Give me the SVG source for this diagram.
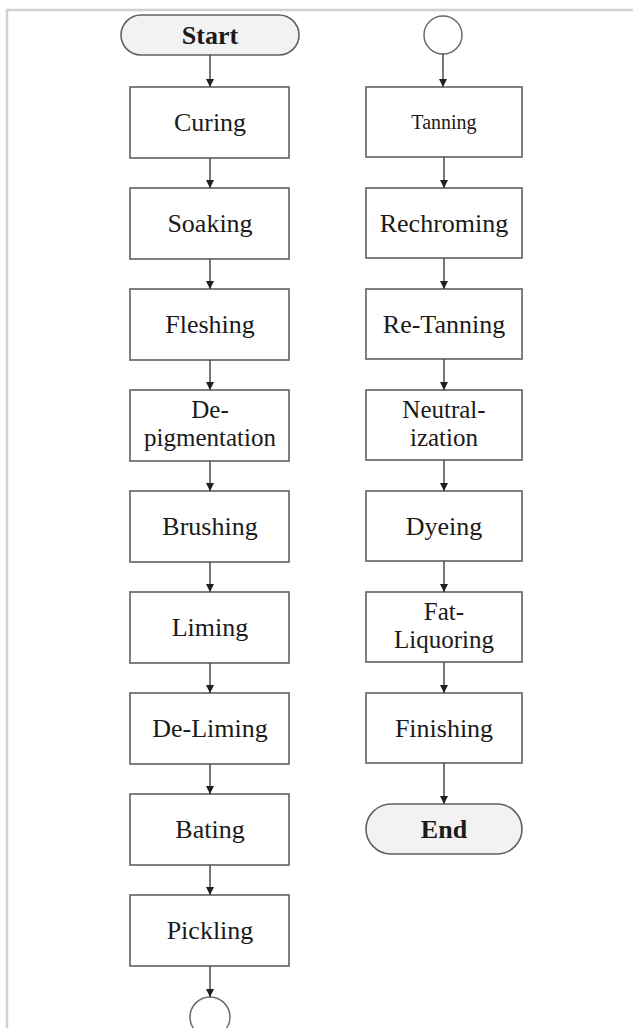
<svg xmlns="http://www.w3.org/2000/svg" width="633" height="1028" viewBox="0 0 633 1028">
<defs>
<style>
.box{fill:#fff;stroke:#606060;stroke-width:1.6}
.term{fill:#f2f2f2;stroke:#606060;stroke-width:1.6}
.circ{fill:#fff;stroke:#6a6a6a;stroke-width:1.5}
.lbl{font-family:"Liberation Serif","Times New Roman",serif;font-size:26px;fill:#1a1a1a;text-anchor:middle}
.two{font-size:25px}
.small{font-size:20px}
.bold{font-weight:bold}
.conn line{stroke:#404040;stroke-width:1.4;marker-end:url(#arr)}
</style>
<marker id="arr" viewBox="0 0 10 10" refX="10" refY="5" markerWidth="8" markerHeight="8" markerUnits="userSpaceOnUse" orient="auto">
<path d="M0,0 L10,5 L0,10 z" fill="#202020"/>
</marker>
</defs>
<rect width="633" height="1028" fill="#fff"/>
<path d="M7,1028 V10 H633" fill="none" stroke="#d0d0d0" stroke-width="2.5"/>

<g id="start"><rect class="term" x="121" y="15" width="178" height="40" rx="20"/><text class="lbl bold" x="210" y="44">Start</text></g>
<g id="curing"><rect class="box" x="130" y="87" width="159" height="71"/><text class="lbl" x="210" y="131">Curing</text></g>
<g id="soaking"><rect class="box" x="130" y="188" width="159" height="71"/><text class="lbl" x="210" y="232">Soaking</text></g>
<g id="fleshing"><rect class="box" x="130" y="289" width="159" height="71"/><text class="lbl" x="210" y="333">Fleshing</text></g>
<g id="depigmentation"><rect class="box" x="130" y="390" width="159" height="71"/><text class="lbl two" x="210" y="418">De-</text><text class="lbl two" x="210" y="446">pigmentation</text></g>
<g id="brushing"><rect class="box" x="130" y="491" width="159" height="71"/><text class="lbl" x="210" y="535">Brushing</text></g>
<g id="liming"><rect class="box" x="130" y="592" width="159" height="71"/><text class="lbl" x="210" y="636">Liming</text></g>
<g id="deliming"><rect class="box" x="130" y="693" width="159" height="71"/><text class="lbl" x="210" y="737">De-Liming</text></g>
<g id="bating"><rect class="box" x="130" y="794" width="159" height="71"/><text class="lbl" x="210" y="838">Bating</text></g>
<g id="pickling"><rect class="box" x="130" y="895" width="159" height="71"/><text class="lbl" x="210" y="939">Pickling</text></g>
<g id="connectorA"><circle class="circ" cx="210" cy="1017" r="20"/></g>

<g id="connectorB"><circle class="circ" cx="443" cy="35" r="19"/></g>
<g id="tanning"><rect class="box" x="366" y="87" width="156" height="70"/><text class="lbl small" x="444" y="129">Tanning</text></g>
<g id="rechroming"><rect class="box" x="366" y="188" width="156" height="70"/><text class="lbl" x="444" y="232">Rechroming</text></g>
<g id="retanning"><rect class="box" x="366" y="289" width="156" height="70"/><text class="lbl" x="444" y="333">Re-Tanning</text></g>
<g id="neutralization"><rect class="box" x="366" y="390" width="156" height="70"/><text class="lbl two" x="444" y="418">Neutral-</text><text class="lbl two" x="444" y="446">ization</text></g>
<g id="dyeing"><rect class="box" x="366" y="491" width="156" height="70"/><text class="lbl" x="444" y="535">Dyeing</text></g>
<g id="fatliquoring"><rect class="box" x="366" y="592" width="156" height="70"/><text class="lbl two" x="444" y="620">Fat-</text><text class="lbl two" x="444" y="648">Liquoring</text></g>
<g id="finishing"><rect class="box" x="366" y="693" width="156" height="70"/><text class="lbl" x="444" y="737">Finishing</text></g>
<g id="end"><rect class="term" x="366" y="804" width="156" height="50" rx="25"/><text class="lbl bold" x="444" y="838">End</text></g>

<g id="connectors" class="conn">
<line x1="210" y1="55" x2="210" y2="87"/>
<line x1="210" y1="158" x2="210" y2="188"/>
<line x1="210" y1="259" x2="210" y2="289"/>
<line x1="210" y1="360" x2="210" y2="390"/>
<line x1="210" y1="461" x2="210" y2="491"/>
<line x1="210" y1="562" x2="210" y2="592"/>
<line x1="210" y1="663" x2="210" y2="693"/>
<line x1="210" y1="764" x2="210" y2="794"/>
<line x1="210" y1="865" x2="210" y2="895"/>
<line x1="210" y1="966" x2="210" y2="997"/>
<line x1="443" y1="54" x2="443" y2="87"/>
<line x1="444" y1="157" x2="444" y2="188"/>
<line x1="444" y1="258" x2="444" y2="289"/>
<line x1="444" y1="359" x2="444" y2="390"/>
<line x1="444" y1="460" x2="444" y2="491"/>
<line x1="444" y1="561" x2="444" y2="592"/>
<line x1="444" y1="662" x2="444" y2="693"/>
<line x1="444" y1="763" x2="444" y2="804"/>
</g>
</svg>
